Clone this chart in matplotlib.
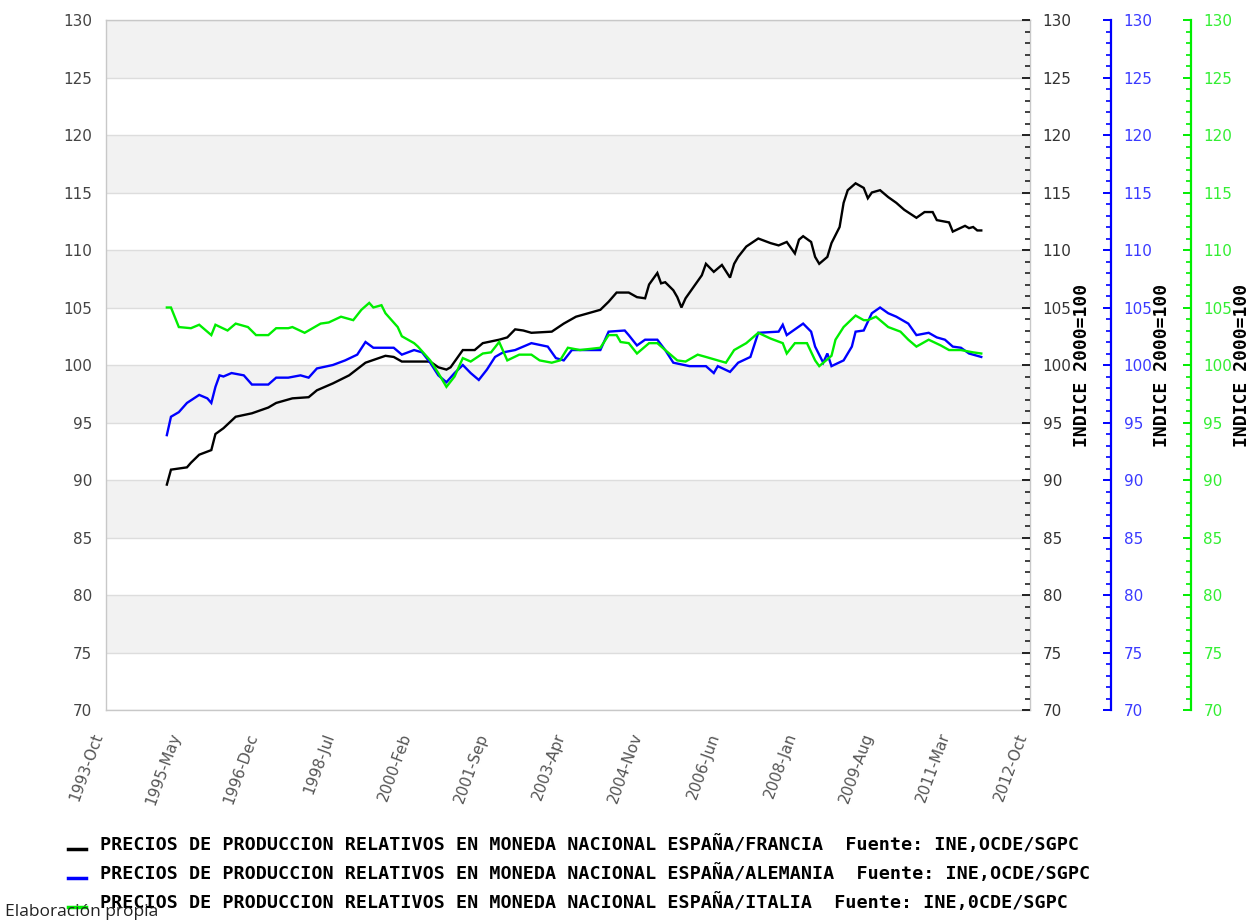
import matplotlib
matplotlib.use("Agg")
import matplotlib.pyplot as plt
from matplotlib.ticker import MultipleLocator
from matplotlib.lines import Line2D
import pandas as pd

# ---------------- data ----------------
france_dates = ["1995-01", "1995-02", "1995-06", "1995-07", "1995-09", "1995-12", "1996-01", "1996-03",
                "1996-06", "1996-10", "1997-02", "1997-04", "1997-08", "1997-12", "1998-02", "1998-06",
                "1998-10", "1999-02", "1999-07", "1999-09", "1999-11", "2000-03", "2000-06", "2000-08",
                "2000-10", "2000-11", "2001-02", "2001-05", "2001-07", "2001-11", "2002-01", "2002-03",
                "2002-05", "2002-07", "2002-12", "2003-03", "2003-06", "2003-09", "2003-12", "2004-02",
                "2004-04", "2004-07", "2004-09", "2004-11", "2004-12", "2005-02", "2005-03", "2005-04",
                "2005-06", "2005-07", "2005-08", "2005-09", "2005-11", "2006-01", "2006-02", "2006-04",
                "2006-06", "2006-08", "2006-09", "2006-10", "2006-12", "2007-03", "2007-06", "2007-08",
                "2007-10", "2007-12", "2008-01", "2008-02", "2008-04", "2008-05", "2008-06", "2008-08",
                "2008-09", "2008-11", "2008-12", "2009-01", "2009-03", "2009-05", "2009-06", "2009-07",
                "2009-09", "2009-11", "2010-01", "2010-03", "2010-06", "2010-08", "2010-10", "2010-11",
                "2011-02", "2011-03", "2011-06", "2011-07", "2011-08", "2011-09", "2011-10"]
france_vals = [89.6, 90.9, 91.1, 91.5, 92.2, 92.6, 94.0, 94.5,
               95.5, 95.8, 96.3, 96.7, 97.1, 97.2, 97.8, 98.4,
               99.1, 100.2, 100.8, 100.7, 100.3, 100.3, 100.3, 99.8,
               99.6, 99.8, 101.3, 101.3, 101.9, 102.2, 102.4, 103.1,
               103.0, 102.8, 102.9, 103.6, 104.2, 104.5, 104.8, 105.5,
               106.3, 106.3, 105.9, 105.8, 107.0, 108.0, 107.1, 107.2,
               106.5, 105.9, 105.0, 105.8, 106.8, 107.8, 108.8, 108.1,
               108.7, 107.6, 108.8, 109.4, 110.3, 111.0, 110.6, 110.4,
               110.7, 109.7, 110.9, 111.2, 110.7, 109.4, 108.8, 109.4,
               110.6, 112.0, 114.1, 115.2, 115.8, 115.4, 114.5, 115.0,
               115.2, 114.6, 114.1, 113.5, 112.8, 113.3, 113.3, 112.6,
               112.4, 111.6, 112.1, 111.9, 112.0, 111.7, 111.7]

germany_dates = ["1995-01", "1995-02", "1995-04", "1995-06", "1995-09", "1995-11", "1995-12", "1996-01",
                 "1996-02", "1996-03", "1996-05", "1996-08", "1996-10", "1997-02", "1997-04", "1997-07",
                 "1997-10", "1997-12", "1998-02", "1998-06", "1998-09", "1998-12", "1999-02", "1999-04",
                 "1999-06", "1999-09", "1999-11", "2000-02", "2000-04", "2000-06", "2000-08", "2000-10",
                 "2000-12", "2001-02", "2001-04", "2001-06", "2001-08", "2001-10", "2001-12", "2002-03",
                 "2002-07", "2002-11", "2003-01", "2003-03", "2003-05", "2003-12", "2004-02", "2004-06",
                 "2004-07", "2004-09", "2004-11", "2005-02", "2005-04", "2005-06", "2005-10", "2006-02",
                 "2006-04", "2006-05", "2006-08", "2006-10", "2007-01", "2007-03", "2007-08", "2007-09",
                 "2007-10", "2008-02", "2008-04", "2008-05", "2008-07", "2008-08", "2008-09", "2008-12",
                 "2009-02", "2009-03", "2009-05", "2009-07", "2009-09", "2009-11", "2010-01", "2010-04",
                 "2010-06", "2010-09", "2010-11", "2011-01", "2011-03", "2011-05", "2011-07", "2011-10"]
germany_vals = [93.9, 95.5, 95.9, 96.7, 97.4, 97.1, 96.7, 98.1,
                99.1, 99.0, 99.3, 99.1, 98.3, 98.3, 98.9, 98.9,
                99.1, 98.9, 99.7, 100.0, 100.4, 100.9, 102.0, 101.5,
                101.5, 101.5, 100.9, 101.3, 101.1, 100.2, 99.1, 98.5,
                99.3, 100.0, 99.3, 98.7, 99.6, 100.7, 101.1, 101.3,
                101.9, 101.6, 100.6, 100.4, 101.3, 101.3, 102.9, 103.0,
                102.6, 101.7, 102.2, 102.2, 101.3, 100.2, 99.9, 99.9,
                99.3, 99.9, 99.4, 100.2, 100.7, 102.8, 102.9, 103.5,
                102.6, 103.6, 102.9, 101.6, 100.2, 101.0, 99.9, 100.4,
                101.6, 102.9, 103.0, 104.5, 105.0, 104.5, 104.2, 103.6,
                102.6, 102.8, 102.4, 102.2, 101.6, 101.5, 101.0, 100.7]

italy_dates = ["1995-01", "1995-02", "1995-04", "1995-07", "1995-09", "1995-12", "1996-01", "1996-04",
               "1996-06", "1996-09", "1996-11", "1997-02", "1997-04", "1997-07", "1997-08", "1997-11",
               "1998-03", "1998-05", "1998-08", "1998-11", "1999-01", "1999-03", "1999-04", "1999-06",
               "1999-07", "1999-10", "1999-11", "2000-02", "2000-03", "2000-06", "2000-08", "2000-10",
               "2000-12", "2001-02", "2001-04", "2001-07", "2001-09", "2001-11", "2002-01", "2002-04",
               "2002-07", "2002-09", "2002-12", "2003-02", "2003-04", "2003-07", "2003-12", "2004-02",
               "2004-04", "2004-05", "2004-07", "2004-09", "2004-12", "2005-02", "2005-04", "2005-07",
               "2005-09", "2005-12", "2006-02", "2006-05", "2006-07", "2006-09", "2006-12", "2007-03",
               "2007-06", "2007-09", "2007-10", "2007-12", "2008-03", "2008-05", "2008-06", "2008-09",
               "2008-10", "2008-12", "2009-03", "2009-05", "2009-06", "2009-08", "2009-11", "2010-02",
               "2010-04", "2010-06", "2010-09", "2010-12", "2011-02", "2011-05", "2011-08", "2011-10"]
italy_vals = [105.0, 105.0, 103.3, 103.2, 103.5, 102.6, 103.5, 103.0,
              103.6, 103.3, 102.6, 102.6, 103.2, 103.2, 103.3, 102.8,
              103.6, 103.7, 104.2, 103.9, 104.8, 105.4, 105.0, 105.2,
              104.5, 103.3, 102.5, 101.9, 101.6, 100.4, 99.3, 98.1,
              99.0, 100.6, 100.3, 101.0, 101.1, 102.0, 100.4, 100.9,
              100.9, 100.4, 100.2, 100.4, 101.5, 101.3, 101.5, 102.6,
              102.6, 102.0, 101.9, 101.0, 101.9, 101.9, 101.3, 100.4,
              100.3, 100.9, 100.7, 100.4, 100.2, 101.3, 101.9, 102.8,
              102.3, 101.9, 101.0, 101.9, 101.9, 100.4, 99.9, 100.8,
              102.2, 103.3, 104.3, 103.9, 103.9, 104.2, 103.3, 102.9,
              102.2, 101.6, 102.2, 101.7, 101.3, 101.3, 101.1, 101.0]

tick_labels = ["1993-Oct", "1995-May", "1996-Dec", "1998-Jul", "2000-Feb", "2001-Sep", "2003-Apr",
               "2004-Nov", "2006-Jun", "2008-Jan", "2009-Aug", "2011-Mar", "2012-Oct"]
series_labels = [
    "PRECIOS DE PRODUCCION RELATIVOS EN MONEDA NACIONAL ESPAÑA/FRANCIA  Fuente: INE,OCDE/SGPC",
    "PRECIOS DE PRODUCCION RELATIVOS EN MONEDA NACIONAL ESPAÑA/ALEMANIA  Fuente: INE,OCDE/SGPC",
    "PRECIOS DE PRODUCCION RELATIVOS EN MONEDA NACIONAL ESPAÑA/ITALIA  Fuente: INE,0CDE/SGPC",
]
axis_title = "INDICE 2000=100"
source_note = "Elaboración propia"
y_min, y_max = 70, 130

# ---------------- styling ----------------
W, H = 1253, 922
BLACK, BLUE, GREEN = "#000000", "#0000ff", "#00ee00"
BLUE_TXT, GREEN_TXT = "#3a3aff", "#33ee33"
MONO = {"family": "DejaVu Sans Mono", "weight": "bold"}

fig = plt.figure(figsize=(W / 100, H / 100), dpi=100)
ax = fig.add_axes([106 / W, 1 - 710 / H, 924 / W, 690 / H])

ax.set_ylim(y_min, y_max)
for lo in range(y_min, y_max, 5):
    if lo % 10 == 5:
        ax.axhspan(lo, lo + 5, color="#f2f2f2", lw=0, zorder=0)
ax.yaxis.set_major_locator(MultipleLocator(5))
ax.grid(axis="y", color="#dddddd", lw=1, zorder=1)
ax.set_axisbelow(True)
for s in ax.spines.values():
    s.set_color("#c8c8c8")
    s.set_linewidth(1)

series = [(france_dates, france_vals, BLACK),
          (germany_dates, germany_vals, BLUE),
          (italy_dates, italy_vals, GREEN)]
for d, v, c in series:
    ax.plot(pd.to_datetime(d, format="%Y-%m"), v, color=c, lw=1.7, zorder=3,
            solid_joinstyle="miter")

ticks = pd.to_datetime(tick_labels, format="%Y-%b")
ax.set_xlim(ticks[0], ticks[-1])
ax.set_xticks(ticks)
ax.set_xticklabels(tick_labels, rotation=70, ha="right", va="top",
                   fontsize=11, color="#555555", family="DejaVu Sans")
ax.tick_params(axis="x", length=0, pad=15)
ax.tick_params(axis="y", length=0, pad=10, labelsize=11, labelcolor="#444444")

# right axes
def right_axis(offset, spine_col, lab_col, title_x, show_spine):
    a = ax.twinx()
    a.set_ylim(y_min, y_max)
    a.yaxis.set_major_locator(MultipleLocator(5))
    a.yaxis.set_minor_locator(MultipleLocator(1))
    for k in ("top", "bottom", "left"):
        a.spines[k].set_visible(False)
    a.spines["right"].set_position(("axes", offset))
    if show_spine:
        a.spines["right"].set_color(spine_col)
        a.spines["right"].set_linewidth(1.6)
    else:
        a.spines["right"].set_visible(False)
    a.tick_params(axis="y", which="major", direction="in", length=6, width=1.4,
                  color=spine_col, labelcolor=lab_col, labelsize=11, pad=9)
    a.tick_params(axis="y", which="minor", direction="in", length=3.5, width=1.2,
                  color=spine_col)
    a.text(title_x, 0.5, axis_title, transform=a.transAxes, rotation=90,
           ha="center", va="center", fontsize=13, color="black", **MONO)
    return a

right_axis(1.0, "#222222", "#333333", 1.0563, False)
right_axis(1.0877, BLUE, BLUE_TXT, 1.1429, True)
right_axis(1.1742, GREEN, GREEN_TXT, 1.2294, True)

# legend rows
row_y = [845, 874, 903]
for (d, v, c), lab, yy in zip(series, series_labels, row_y):
    fig.add_artist(Line2D([68 / W, 86 / W], [1 - (yy + 4) / H] * 2, color=c, lw=2.5))
    fig.text(100 / W, 1 - yy / H, lab, ha="left", va="center", fontsize=13.2,
             color="black", **MONO)

fig.text(5 / W, 1 - 912 / H, source_note, ha="left", va="center", fontsize=12.5,
         color="#222222", family="Open Sans")

fig.savefig("out.png", dpi=100)
